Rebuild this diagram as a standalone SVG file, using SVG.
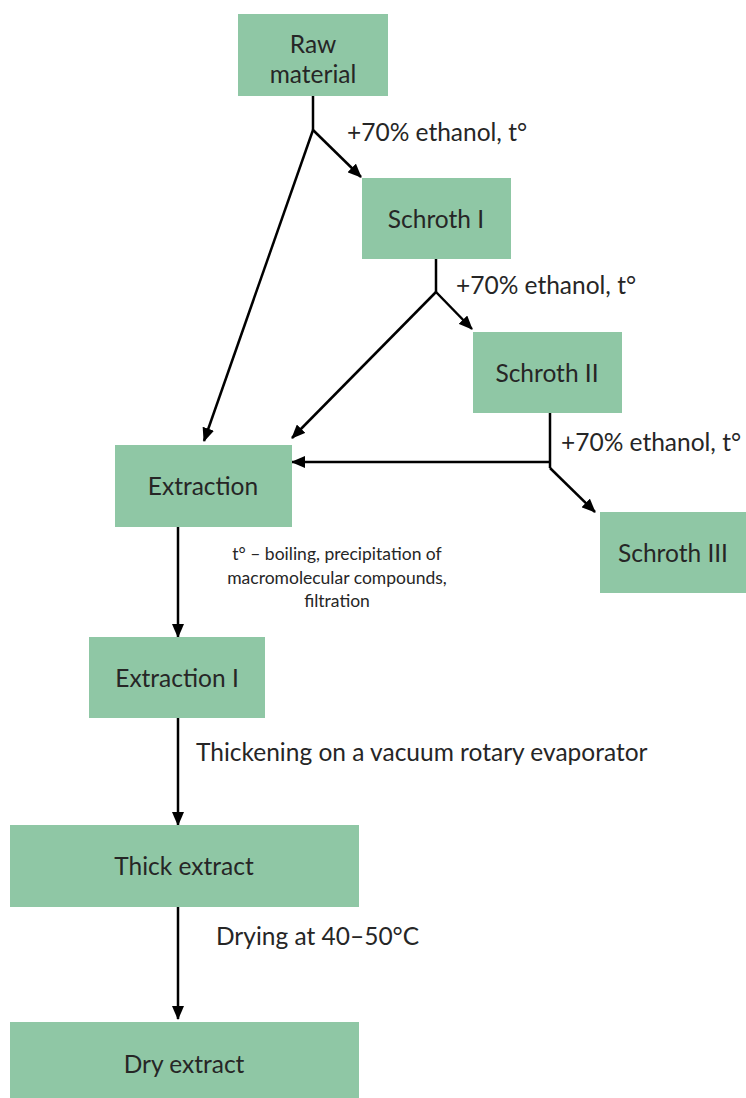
<svg xmlns="http://www.w3.org/2000/svg" width="746" height="1098" viewBox="0 0 746 1098">
<style>
.box{fill:#8FC7A5}
.t{font-family:Lato,"Open Sans",sans-serif;font-size:24.5px;fill:#262626}
.c{text-anchor:middle}
.s{font-family:Lato,"Open Sans",sans-serif;font-size:17.5px;fill:#262626;text-anchor:middle}
.ln{stroke:#000;stroke-width:2.5;fill:none}
</style>
<defs>
<marker id="ah" markerWidth="14" markerHeight="12" refX="13" refY="6" orient="auto" markerUnits="userSpaceOnUse">
<path d="M0,0 L14,6 L0,12 Z" fill="#000"/>
</marker>
</defs>
<rect width="746" height="1098" fill="#fff"/>
<g id="connectors">
<path class="ln" d="M313,96 V130"/>
<path class="ln" d="M313,130 L361,177" marker-end="url(#ah)"/>
<path class="ln" d="M313,130 L204,441" marker-end="url(#ah)"/>
<path class="ln" d="M436,259 V292"/>
<path class="ln" d="M436,292 L472,329" marker-end="url(#ah)"/>
<path class="ln" d="M436,292 L292,438" marker-end="url(#ah)"/>
<path class="ln" d="M550,413 V468"/>
<path class="ln" d="M550,462 H292" marker-end="url(#ah)"/>
<path class="ln" d="M550,468 L595,512" marker-end="url(#ah)"/>
<path class="ln" d="M178,527 V637" marker-end="url(#ah)"/>
<path class="ln" d="M178,718 V825" marker-end="url(#ah)"/>
<path class="ln" d="M178,907 V1019" marker-end="url(#ah)"/>
<text class="t" x="347" y="141">+70% ethanol, t°</text>
<text class="t" x="456" y="294">+70% ethanol, t°</text>
<text class="t" x="561" y="451">+70% ethanol, t°</text>
<text class="s" x="337" y="560">t° – boiling, precipitation of</text>
<text class="s" x="337" y="584">macromolecular compounds,</text>
<text class="s" x="337" y="607">filtration</text>
<text class="t" x="196" y="761">Thickening on a vacuum rotary evaporator</text>
<text class="t" x="216" y="945">Drying at 40–50°C</text>
</g>
<g id="raw"><rect class="box" x="238" y="14" width="150" height="82"/><text class="t c" x="313" y="53">Raw</text><text class="t c" x="313" y="83">material</text></g>
<g id="schroth1"><rect class="box" x="362" y="178" width="149" height="81"/><text class="t c" x="436" y="228">Schroth I</text></g>
<g id="schroth2"><rect class="box" x="473" y="332" width="149" height="81"/><text class="t c" x="547" y="382">Schroth II</text></g>
<g id="schroth3"><rect class="box" x="600" y="512" width="146" height="81"/><text class="t c" x="673" y="562">Schroth III</text></g>
<g id="extraction"><rect class="box" x="115" y="445" width="177" height="82"/><text class="t c" x="203" y="495">Extraction</text></g>
<g id="extraction1"><rect class="box" x="89" y="637" width="176" height="81"/><text class="t c" x="177" y="687">Extraction I</text></g>
<g id="thick"><rect class="box" x="10" y="825" width="349" height="82"/><text class="t c" x="184" y="875">Thick extract</text></g>
<g id="dry"><rect class="box" x="10" y="1022" width="349" height="76"/><text class="t c" x="184" y="1073">Dry extract</text></g>
</svg>
